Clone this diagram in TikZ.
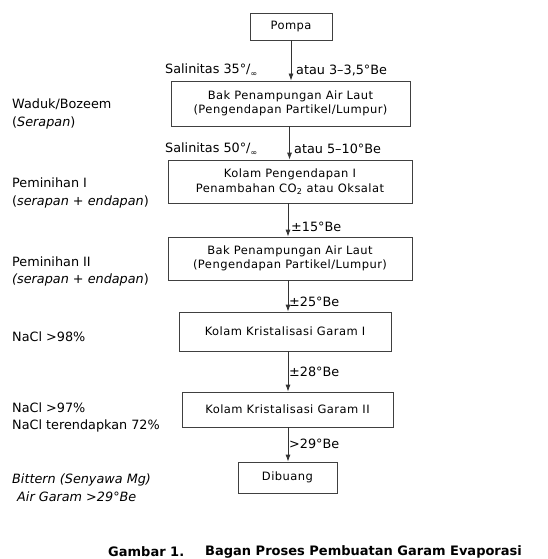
\documentclass[tikz,border=0pt]{standalone}
\usepackage{fontspec}
\setmainfont{DejaVu Sans}
\newfontfamily\boxfont[LetterSpace=4]{DejaVu Sans}
\usetikzlibrary{arrows.meta}
\newcommand{\permil}{°/\raisebox{-0.35ex}{\footnotesize ∞}}
\begin{document}
\begin{tikzpicture}[x=1pt,y=-1pt,
  box/.style={draw=black!75, line width=0.8pt, inner sep=0pt, align=center,
    font=\boxfont\fontsize{11.5}{14.5}\selectfont, text=black},
  lbl/.style={anchor=west, inner sep=0pt, font=\fontsize{12.8}{15}\selectfont},
  captxt/.style={anchor=west, inner sep=0pt, font=\bfseries\fontsize{13}{15}\selectfont},
  arr/.style={draw=black!80, line width=0.8pt, -{Latex[length=7pt,width=5pt]}}]
\useasboundingbox (0,0) rectangle (548,559);
\fill[white] (0,0) rectangle (548,559);

% boxes
\node[box, minimum width=82pt, minimum height=27pt] (pompa) at (291,26.5) {Pompa};
\node[box, minimum width=239pt, minimum height=45pt] (b1) at (290.5,103.5) {Bak Penampungan Air Laut\\(Pengendapan Partikel/Lumpur)};
\node[box, minimum width=244pt, minimum height=43pt] (b2) at (290,181.5) {Kolam Pengendapan I\\Penambahan CO\textsubscript{2} atau Oksalat};
\node[box, minimum width=244pt, minimum height=43pt] (b3) at (290,258.5) {Bak Penampungan Air Laut\\(Pengendapan Partikel/Lumpur)};
\node[box, minimum width=212pt, minimum height=39pt] (b4) at (285,331.5) {Kolam Kristalisasi Garam I};
\node[box, minimum width=211pt, minimum height=35pt] (b5) at (287.5,409.5) {Kolam Kristalisasi Garam II};
\node[box, minimum width=99pt, minimum height=31pt] (b6) at (287.5,477.5) {Dibuang};

% arrows
\coordinate (x1) at (291,0);
\coordinate (x2) at (289.5,0);
\coordinate (x3) at (288,0);
\draw[arr] (pompa.south -| x1) -- (b1.north -| x1);
\draw[arr] (b1.south -| x2) -- (b2.north -| x2);
\draw[arr] (b2.south -| x3) -- (b3.north -| x3);
\draw[arr] (b3.south -| x3) -- (b4.north -| x3);
\draw[arr] (b4.south -| x3) -- (b5.north -| x3);
\draw[arr] (b5.south -| x3) -- (b6.north -| x3);

% arrow labels
\node[lbl] (s1) at (165,70) {Salinitas 35\permil};
\node[lbl] (s1b) at (296,70) {atau 3–3,5°Be};
\node[lbl] (s2) at (165,149) {Salinitas 50\permil};
\node[lbl] (s2b) at (294,149) {atau 5–10°Be};
\node[lbl] (s3) at (291,227) {±15°Be};
\node[lbl] (s4) at (289,302) {±25°Be};
\node[lbl] (s5) at (289,372) {±28°Be};
\node[lbl] (s6) at (289,444) {>29°Be};

% left labels
\node[lbl] (l1a) at (12,104) {Waduk/Bozeem};
\node[lbl] (l1b) at (12,123) {(\textit{Serapan})};
\node[lbl] (l2a) at (12,183) {Peminihan I};
\node[lbl] (l2b) at (12,202) {(\textit{serapan} + \textit{endapan})};
\node[lbl] (l3a) at (12,262) {Peminihan II};
\node[lbl] (l3b) at (12,280) {\textit{(serapan + endapan})};
\node[lbl] (l4a) at (12,337) {NaCl >98\%};
\node[lbl] (l5a) at (12,408) {NaCl >97\%};
\node[lbl] (l5b) at (12,426) {NaCl terendapkan 72\%};
\node[lbl] (l6a) at (12,480) {\textit{Bittern (Senyawa Mg)}};
\node[lbl] (l6b) at (17,497) {\textit{Air Garam >29°Be}};

% caption
\node[captxt] (c1) at (108,552) {Gambar 1.};
\node[captxt] (c2) at (205,552) {Bagan Proses Pembuatan Garam Evaporasi};
\end{tikzpicture}
\end{document}
